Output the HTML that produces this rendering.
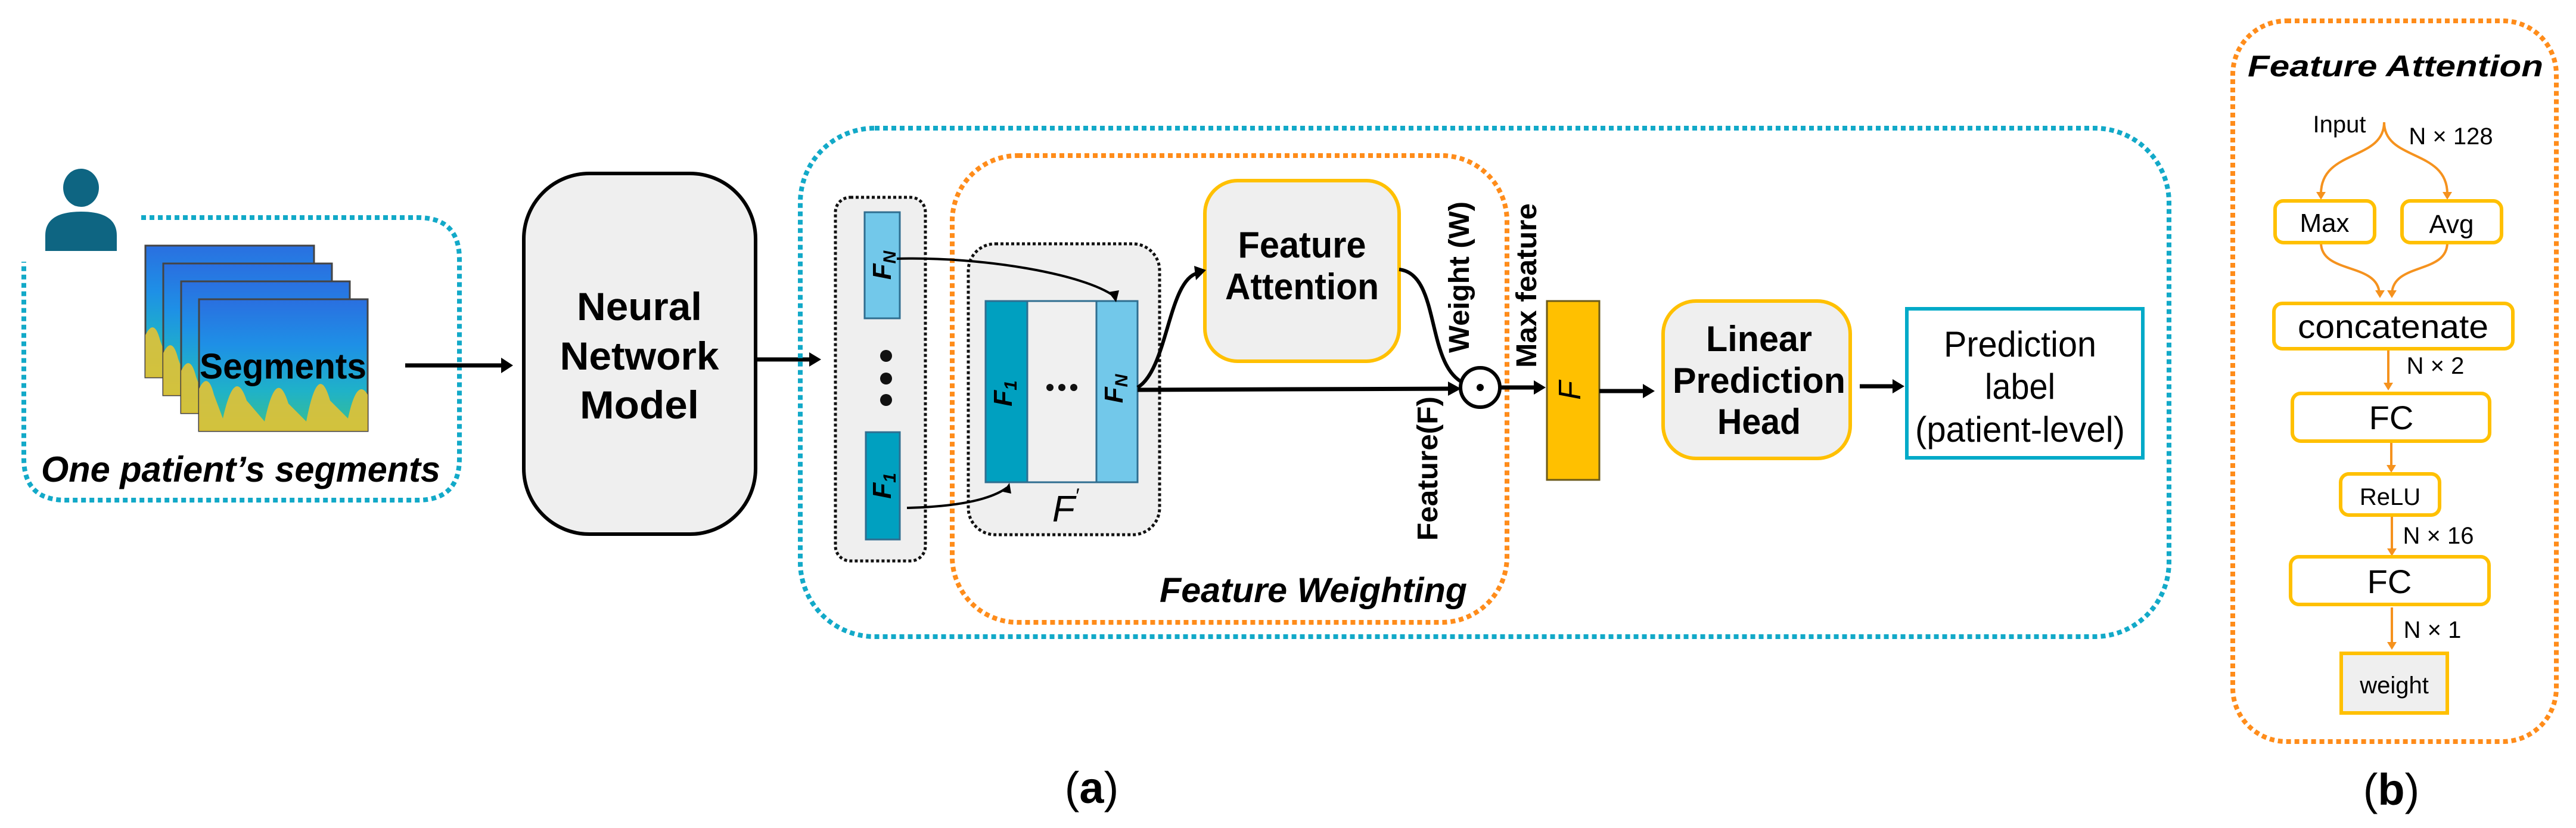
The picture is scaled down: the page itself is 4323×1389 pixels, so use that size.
<!DOCTYPE html>
<html><head><meta charset="utf-8"><style>
html,body{margin:0;padding:0;background:#fff;}
svg{display:block;}
text{font-family:"Liberation Sans",sans-serif;}
</style></head><body>
<svg width="4323" height="1389" viewBox="0 0 4323 1389" xmlns="http://www.w3.org/2000/svg">
<defs>
<marker id="ab" markerWidth="10" markerHeight="10" refX="7" refY="5" orient="auto" markerUnits="userSpaceOnUse" viewBox="0 0 10 10">
</marker>
<linearGradient id="spec" x1="0" y1="0" x2="0" y2="1">
<stop offset="0" stop-color="#2a6fe0"/><stop offset="0.35" stop-color="#1e90e6"/><stop offset="0.7" stop-color="#1fb2c8"/><stop offset="1" stop-color="#3bbf8a"/>
</linearGradient>
<g id="seg">
<rect x="0" y="0" width="283" height="221" fill="url(#spec)" stroke="#444" stroke-width="3"/>
<path d="M0,221 L0,150 Q15,120 25,160 L40,200 Q60,110 80,170 L110,205 Q130,110 150,175 L180,205 Q200,100 220,170 L250,200 Q265,130 283,160 L283,221 Z" fill="#e3c234" opacity="0.9"/>
</g>
</defs>

<!-- Person icon -->
<ellipse cx="136" cy="315" rx="30" ry="32" fill="#0e6582"/>
<path d="M76,421 L76,395 Q76,355 136,355 Q196,355 196,395 L196,421 Z" fill="#0e6582"/>

<!-- Left dotted box -->
<path d="M237,365 L701,365 Q771,365 771,435 L771,769 Q771,839 701,839 L110,839 Q40,839 40,769 L40,439" fill="none" stroke="#12a9c8" stroke-width="8" stroke-dasharray="8 6"/>

<!-- segments -->
<use href="#seg" x="244" y="412"/>
<use href="#seg" x="274" y="442"/>
<use href="#seg" x="304" y="472"/>
<use href="#seg" x="334" y="502"/>
<text x="475" y="635" font-size="60" font-weight="bold" text-anchor="middle" textLength="280" lengthAdjust="spacingAndGlyphs">Segments</text>
<text x="404" y="808" font-size="60" font-weight="bold" font-style="italic" text-anchor="middle" textLength="670" lengthAdjust="spacingAndGlyphs">One patient’s segments</text>

<!-- arrow to NN -->
<line x1="680" y1="613" x2="845" y2="613" stroke="#000" stroke-width="7"/>
<polygon points="861,613 841,600 841,626" fill="#000"/>

<!-- NN box -->
<rect x="879" y="291" width="389" height="605" rx="110" fill="#efefef" stroke="#000" stroke-width="6"/>
<g font-size="66" font-weight="bold" text-anchor="middle">
<text x="1073" y="537" textLength="210" lengthAdjust="spacingAndGlyphs">Neural</text>
<text x="1073" y="620" textLength="267" lengthAdjust="spacingAndGlyphs">Network</text>
<text x="1073" y="702" textLength="200" lengthAdjust="spacingAndGlyphs">Model</text>
</g>
<line x1="1268" y1="603" x2="1362" y2="603" stroke="#000" stroke-width="7"/>
<polygon points="1378,603 1358,591 1358,615" fill="#000"/>

<!-- Outer blue dotted box -->
<rect x="1343" y="215" width="2297" height="853" rx="125" fill="none" stroke="#12a9c8" stroke-width="8" stroke-dasharray="8 6"/>

<!-- left black dotted box -->
<rect x="1402" y="331" width="151" height="610" rx="25" fill="#efefef" stroke="#111" stroke-width="5" stroke-dasharray="5 4"/>
<rect x="1451" y="356" width="59" height="178" fill="#72c8ea" stroke="#2f6e90" stroke-width="3"/>
<rect x="1453" y="725" width="57" height="180" fill="#00a0c0" stroke="#2f6e90" stroke-width="3"/>
<circle cx="1487" cy="597" r="10" fill="#111"/>
<circle cx="1487" cy="635" r="10" fill="#111"/>
<circle cx="1487" cy="671" r="10" fill="#111"/>
<text transform="translate(1495,445) rotate(-90)" font-size="44" font-style="italic" text-anchor="middle" font-weight="bold">F<tspan font-size="30" dy="8">N</tspan></text>
<text transform="translate(1495,815) rotate(-90)" font-size="44" font-style="italic" text-anchor="middle" font-weight="bold">F<tspan font-size="30" dy="8">1</tspan></text>

<!-- Orange dotted box -->
<rect x="1598" y="261" width="931" height="783" rx="110" fill="none" stroke="#ff8c1a" stroke-width="8" stroke-dasharray="8 6"/>

<!-- F' box -->
<rect x="1625" y="409" width="321" height="488" rx="45" fill="#efefef" stroke="#111" stroke-width="5" stroke-dasharray="5 4"/>
<rect x="1654" y="505" width="70" height="304" fill="#00a0c0" stroke="#2f6e90" stroke-width="3"/>
<rect x="1724" y="505" width="116" height="304" fill="#f0f0f0" stroke="#2f6e90" stroke-width="3"/>
<rect x="1840" y="505" width="69" height="304" fill="#72c8ea" stroke="#2f6e90" stroke-width="3"/>
<text transform="translate(1698,660) rotate(-90)" font-size="44" font-style="italic" text-anchor="middle" font-weight="bold">F<tspan font-size="30" dy="8">1</tspan></text>
<text transform="translate(1884,652) rotate(-90)" font-size="44" font-style="italic" text-anchor="middle" font-weight="bold">F<tspan font-size="30" dy="8">N</tspan></text>
<circle cx="1762" cy="650" r="6" fill="#111"/><circle cx="1782" cy="650" r="6" fill="#111"/><circle cx="1802" cy="650" r="6" fill="#111"/>
<text x="1788" y="875" font-size="62" font-style="italic" font-family="Liberation Serif,serif" text-anchor="middle">F<tspan font-size="34" dy="-32">′</tspan></text>

<!-- curves from small bars -->
<path d="M1505,434 C1650,430 1820,460 1870,497" fill="none" stroke="#000" stroke-width="4"/>
<polygon points="1873,507 1860,490 1878,487" fill="#000"/>
<path d="M1522,852 C1600,850 1660,840 1690,818" fill="none" stroke="#000" stroke-width="4"/>
<polygon points="1694,810 1683,825 1697,828" fill="#000"/>

<!-- Feature Attention box -->
<rect x="2022" y="303" width="326" height="303" rx="55" fill="#efefef" stroke="#ffc000" stroke-width="6"/>
<g font-size="62" font-weight="bold" text-anchor="middle">
<text x="2185" y="432" textLength="215" lengthAdjust="spacingAndGlyphs">Feature</text>
<text x="2185" y="502" textLength="258" lengthAdjust="spacingAndGlyphs">Attention</text>
</g>

<!-- main arrow -->
<line x1="1909" y1="654" x2="2435" y2="652" stroke="#000" stroke-width="7"/>
<polygon points="2452,652 2430,640 2430,664" fill="#000"/>
<path d="M1909,650 C1960,620 1960,470 2010,458" fill="none" stroke="#000" stroke-width="6"/>
<polygon points="2024,453 2004,446 2007,470" fill="#000"/>
<path d="M2348,452 C2420,460 2390,620 2462,645" fill="none" stroke="#000" stroke-width="6"/>
<circle cx="2484" cy="650" r="33" fill="#fff" stroke="#000" stroke-width="6"/>
<circle cx="2484" cy="650" r="6" fill="#000"/>
<line x1="2517" y1="650" x2="2578" y2="650" stroke="#000" stroke-width="7"/>
<polygon points="2594,650 2574,638 2574,662" fill="#000"/>

<g font-size="48" font-weight="bold" text-anchor="middle">
<text transform="translate(2465,465) rotate(-90)" textLength="254" lengthAdjust="spacingAndGlyphs">Weight (W)</text>
<text transform="translate(2412,786) rotate(-90)" textLength="242" lengthAdjust="spacingAndGlyphs">Feature(F)</text>
<text transform="translate(2578,479) rotate(-90)" textLength="276" lengthAdjust="spacingAndGlyphs">Max feature</text>
</g>
<text x="2204" y="1010" font-size="58" font-weight="bold" font-style="italic" text-anchor="middle" textLength="516" lengthAdjust="spacingAndGlyphs">Feature Weighting</text>

<!-- Max F bar -->
<rect x="2596" y="505" width="88" height="300" fill="#ffc000" stroke="#6b5a1a" stroke-width="3"/>
<text transform="translate(2652,655) rotate(-90)" font-size="52" font-style="italic" font-family="Liberation Serif,serif" text-anchor="middle">F</text>
<line x1="2684" y1="656" x2="2760" y2="656" stroke="#000" stroke-width="7"/>
<polygon points="2777,656 2757,644 2757,668" fill="#000"/>

<!-- LPH -->
<rect x="2791" y="505" width="314" height="264" rx="55" fill="#efefef" stroke="#ffc000" stroke-width="6"/>
<g font-size="60" font-weight="bold" text-anchor="middle">
<text x="2952" y="589" textLength="178" lengthAdjust="spacingAndGlyphs">Linear</text>
<text x="2952" y="659" textLength="290" lengthAdjust="spacingAndGlyphs">Prediction</text>
<text x="2952" y="728" textLength="140" lengthAdjust="spacingAndGlyphs">Head</text>
</g>
<line x1="3121" y1="648" x2="3180" y2="648" stroke="#000" stroke-width="7"/>
<polygon points="3196,648 3176,636 3176,660" fill="#000"/>

<!-- Prediction box -->
<rect x="3200" y="518" width="396" height="250" fill="#fff" stroke="#00aac8" stroke-width="6"/>
<g font-size="60" text-anchor="middle">
<text x="3390" y="598" textLength="256" lengthAdjust="spacingAndGlyphs">Prediction</text>
<text x="3390" y="669" textLength="118" lengthAdjust="spacingAndGlyphs">label</text>
<text x="3390" y="741" textLength="352" lengthAdjust="spacingAndGlyphs">(patient-level)</text>
</g>

<text x="1832" y="1347" font-size="74" font-family="Liberation Serif,serif" text-anchor="middle">(<tspan font-weight="bold">a</tspan>)</text>

<!-- (b) panel -->
<rect x="3747" y="35" width="543" height="1209" rx="90" fill="none" stroke="#ff8c1a" stroke-width="8" stroke-dasharray="8 6"/>
<text x="4020" y="128" font-size="50" font-weight="bold" font-style="italic" text-anchor="middle" textLength="496" lengthAdjust="spacingAndGlyphs">Feature Attention</text>
<text x="3926" y="222" font-size="40" text-anchor="middle">Input</text>
<text x="4113" y="242" font-size="40" text-anchor="middle">N × 128</text>
<g fill="none" stroke="#f5921e" stroke-width="4">
<path d="M4001,205 C4001,270 3895,250 3895,325"/>
<path d="M4001,205 C4001,270 4107,250 4107,325"/>
<path d="M3895,407 C3895,460 3990,440 3993,492"/>
<path d="M4107,407 C4107,460 4017,440 4014,492"/>
<line x1="4008" y1="585" x2="4008" y2="645"/>
<line x1="4013" y1="740" x2="4013" y2="785"/>
<line x1="4014" y1="864" x2="4014" y2="925"/>
<line x1="4014" y1="1019" x2="4014" y2="1080"/>
</g>
<g fill="#f5921e">
<polygon points="3895,335 3887,322 3903,322"/>
<polygon points="4107,335 4099,322 4115,322"/>
<polygon points="3994,500 3986,487 4002,487"/>
<polygon points="4014,500 4006,487 4022,487"/>
<polygon points="4008,655 4000,642 4016,642"/>
<polygon points="4013,793 4005,780 4021,780"/>
<polygon points="4014,933 4006,920 4022,920"/>
<polygon points="4014,1090 4006,1077 4022,1077"/>
</g>
<g fill="#fff" stroke="#ffc000" stroke-width="6">
<rect x="3818" y="337" width="167" height="70" rx="14"/>
<rect x="4031" y="337" width="167" height="70" rx="14"/>
<rect x="3816" y="509" width="401" height="76" rx="14"/>
<rect x="3847" y="660" width="331" height="80" rx="14"/>
<rect x="3928" y="795" width="166" height="69" rx="14"/>
<rect x="3844" y="934" width="333" height="80" rx="14"/>
<rect x="3929" y="1096" width="178" height="100" fill="#efefef"/>
</g>
<g text-anchor="middle">
<text x="3901" y="389" font-size="44">Max</text>
<text x="4114" y="391" font-size="44">Avg</text>
<text x="4016" y="567" font-size="56" textLength="320" lengthAdjust="spacingAndGlyphs">concatenate</text>
<text x="4087" y="627" font-size="40">N × 2</text>
<text x="4013" y="720" font-size="56">FC</text>
<text x="4011" y="847" font-size="40">ReLU</text>
<text x="4092" y="912" font-size="40">N × 16</text>
<text x="4010" y="995" font-size="56">FC</text>
<text x="4082" y="1070" font-size="40">N × 1</text>
<text x="4018" y="1163" font-size="40">weight</text>
</g>
<text x="4013" y="1350" font-size="74" font-family="Liberation Serif,serif" text-anchor="middle">(<tspan font-weight="bold">b</tspan>)</text>
</svg>
</body></html>
